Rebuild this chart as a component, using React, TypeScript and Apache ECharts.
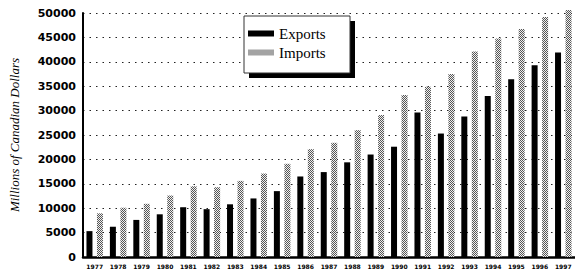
import React, { useEffect, useRef } from "react";
import * as echarts from "echarts";

const years = ["1977","1978","1979","1980","1981","1982","1983","1984","1985","1986","1987","1988","1989","1990","1991","1992","1993","1994","1995","1996","1997"];
const exportsData = [5300, 6200, 7600, 8750, 10200, 9800, 10800, 12000, 13500, 16500, 17400, 19400, 21000, 22600, 29600, 25300, 28800, 33000, 36400, 39300, 41900];
const importsData = [8950, 10100, 10900, 12600, 14500, 14300, 15600, 17100, 19100, 22100, 23400, 26000, 29100, 33200, 34900, 37500, 42100, 44800, 46700, 49200, 50600];

function makePattern(): HTMLCanvasElement {
  const c = document.createElement("canvas");
  c.width = 2;
  c.height = 2;
  const ctx = c.getContext("2d")!;
  ctx.fillStyle = "#f0f0f0";
  ctx.fillRect(0, 0, 2, 2);
  ctx.fillStyle = "#555";
  ctx.fillRect(0, 0, 1, 1);
  ctx.fillRect(1, 1, 1, 1);
  return c;
}

export default function App() {
  const ref = useRef<HTMLDivElement>(null);
  useEffect(() => {
    if (!ref.current) return;
    const chart = echarts.init(ref.current, null, { renderer: "svg" });
    const pattern = { image: makePattern(), repeat: "repeat" } as any;
    chart.setOption({
      animation: false,
      backgroundColor: "#fff",
      grid: { left: 80, right: 0, top: 13, bottom: 15 },
      xAxis: {
        type: "category",
        data: years,
        axisLine: { lineStyle: { color: "#000", width: 2.5 } },
        axisTick: { show: false },
        axisLabel: {
          color: "#000",
          fontFamily: "DejaVu Sans",
          fontWeight: "bold",
          fontSize: 6,
          margin: 6,
          interval: 0,
        },
      },
      yAxis: {
        type: "value",
        min: 0,
        max: 50000,
        interval: 5000,
        name: "Millions of Canadian Dollars",
        nameLocation: "middle",
        nameGap: 62,
        nameTextStyle: {
          fontFamily: "Liberation Serif",
          fontStyle: "italic",
          fontSize: 13,
          color: "#000",
        },
        axisLine: { show: true, lineStyle: { color: "#000", width: 2 } },
        axisTick: { show: false },
        axisLabel: {
          color: "#000",
          fontFamily: "DejaVu Sans",
          fontWeight: "bold",
          fontSize: 11,
          margin: 7,
          formatter: (v: number) => String(v),
        },
        splitLine: {
          show: true,
          lineStyle: { color: "#222", width: 1, type: [1.5, 5] },
        },
      },
      legend: {
        orient: "vertical",
        left: 248,
        top: 26,
        padding: 0,
        z: 20,
        itemWidth: 26,
        itemHeight: 6,
        itemGap: 4,
        icon: "rect",
        textStyle: {
          fontFamily: "Liberation Serif",
          fontSize: 15,
          lineHeight: 15,
          color: "#000",
        },
        data: ["Exports", "Imports"],
      },
      graphic: [
        { type: "rect", z: 10, shape: { x: 249, y: 21, width: 106, height: 57 }, style: { fill: "#000" } },
        { type: "rect", z: 11, shape: { x: 244, y: 16, width: 106, height: 57 }, style: { fill: "#fff", stroke: "#333", lineWidth: 1 } },
      ],
      series: [
        {
          name: "Exports",
          type: "bar",
          data: exportsData,
          barWidth: 6,
          barGap: "75%",
          itemStyle: { color: "#000" },
          clip: false,
        },
        {
          name: "Imports",
          type: "bar",
          data: importsData,
          barWidth: 6,
          itemStyle: { color: pattern },
          clip: false,
        },
      ],
    });
    return () => chart.dispose();
  }, []);
  return <div ref={ref} style={{ width: 575, height: 272, position: "absolute", left: 0, top: 0 }} />;
}
